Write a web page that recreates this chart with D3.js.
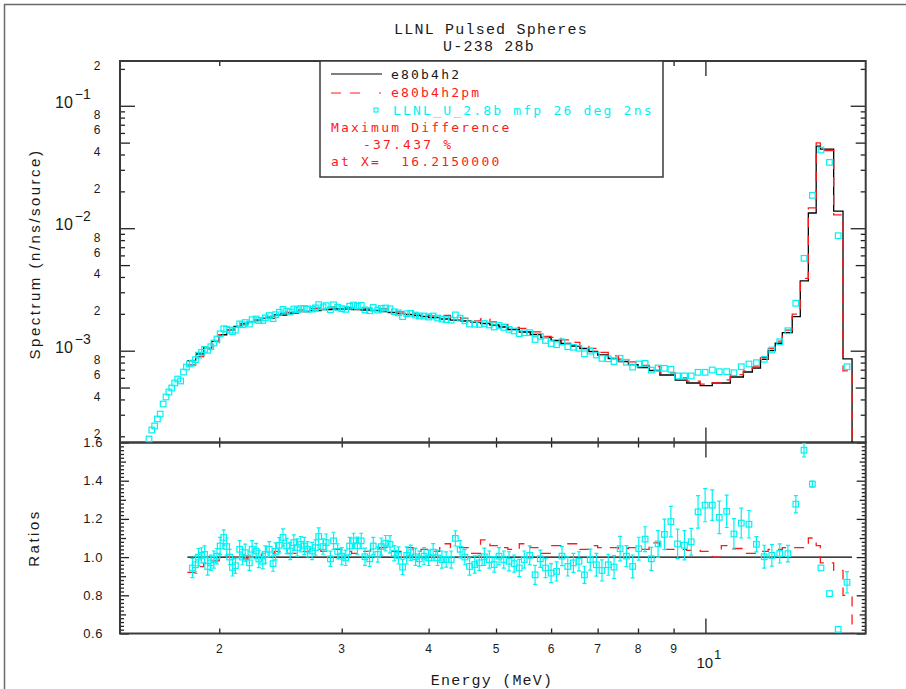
<!DOCTYPE html>
<html>
<head>
<meta charset="utf-8">
<script src="https://cdn.jsdelivr.net/npm/d3@7"></script>
<style>
  body { margin: 0; background: #fff; }
  svg { display: block; }
</style>
</head>
<body>
<div id="chart"></div>
<script>
// ---- calculations (histograms, MeV bin edges) ----
const calcEdges = [
  1.80, 1.85, 1.90, 1.95, 2.00, 2.05, 2.10, 2.15, 2.20, 2.25,
  2.30, 2.40, 2.50, 2.60, 2.70,
  2.80, 2.90, 3.00, 3.10, 3.20, 3.30, 3.40, 3.50, 3.60, 3.70,
  3.80, 3.90, 4.00, 4.15, 4.30, 4.45, 4.60, 4.75, 4.90, 5.05,
  5.20, 5.40, 5.60, 5.80, 6.00, 6.20, 6.40, 6.60, 6.80, 7.00,
  7.25, 7.50, 7.75, 8.00, 8.30, 8.60, 9.05, 9.40, 9.83, 10.23,
  10.54, 10.86, 11.34, 11.68, 12.00, 12.31, 12.60, 12.90, 13.33, 13.69,
  14.06, 14.43, 14.63, 15.29, 15.77, 16.25
];
const calcE80 = [
  8.30e-4, 9.40e-4, 1.06e-3, 1.19e-3, 1.35e-3, 1.48e-3, 1.58e-3, 1.66e-3, 1.72e-3, 1.78e-3,
  1.849e-3, 1.956e-3, 2.031e-3, 2.089e-3, 2.129e-3,
  2.169e-3, 2.190e-3, 2.190e-3, 2.169e-3, 2.149e-3, 2.129e-3, 2.089e-3, 2.050e-3, 2.012e-3, 1.975e-3,
  1.938e-3, 1.902e-3, 1.866e-3, 1.815e-3, 1.780e-3, 1.748e-3, 1.715e-3, 1.667e-3, 1.621e-3, 1.561e-3,
  1.490e-3, 1.421e-3, 1.356e-3, 1.282e-3, 1.211e-3, 1.145e-3, 1.092e-3, 1.042e-3, 9.85e-4, 9.22e-4,
  8.64e-4, 8.16e-4, 7.71e-4, 7.29e-4, 6.89e-4, 6.33e-4, 5.76e-4, 5.45e-4, 5.18e-4, 5.45e-4,
  5.45e-4, 6.10e-4, 6.70e-4, 7.22e-4, 8.50e-4, 1.00e-3, 1.15e-3, 1.403e-3, 1.895e-3, 3.71e-3,
  1.331e-2, 4.69e-2, 4.43e-2, 1.381e-2, 8.56e-4
];
const calcPm = [
  7.64e-4, 8.93e-4, 1.028e-3, 1.166e-3, 1.35e-3, 1.48e-3, 1.564e-3, 1.643e-3, 1.72e-3, 1.78e-3,
  1.886e-3, 2.015e-3, 2.072e-3, 2.152e-3, 2.214e-3,
  2.234e-3, 2.278e-3, 2.256e-3, 2.212e-3, 2.213e-3, 2.214e-3, 2.193e-3, 2.112e-3, 2.072e-3, 2.074e-3,
  1.996e-3, 1.978e-3, 1.922e-3, 1.942e-3, 1.869e-3, 1.835e-3, 1.749e-3, 1.817e-3, 1.718e-3, 1.639e-3,
  1.550e-3, 1.520e-3, 1.424e-3, 1.308e-3, 1.284e-3, 1.225e-3, 1.168e-3, 1.084e-3, 1.044e-3, 9.68e-4,
  9.07e-4, 8.53e-4, 8.10e-4, 7.58e-4, 7.41e-4, 6.58e-4, 5.99e-4, 5.64e-4, 5.34e-4, 5.45e-4,
  5.78e-4, 6.37e-4, 6.83e-4, 7.36e-4, 8.76e-4, 1.04e-3, 1.196e-3, 1.473e-3, 1.990e-3, 3.90e-3,
  1.464e-2, 4.97e-2, 4.30e-2, 1.284e-2, 6.85e-4
];
// e80b4h2pm / e80b4h2, per bin
const ratioPm = [
  0.92, 0.95, 0.97, 0.98, 1.00, 1.00, 0.99, 0.99, 1.00, 1.00,
  1.02, 1.03, 1.02, 1.03, 1.04,
  1.03, 1.04, 1.03, 1.02, 1.03, 1.04, 1.05, 1.03, 1.03, 1.05,
  1.03, 1.04, 1.03, 1.07, 1.05, 1.05, 1.02, 1.09, 1.06, 1.05,
  1.04, 1.07, 1.05, 1.02, 1.06, 1.07, 1.07, 1.04, 1.06, 1.05,
  1.05, 1.045, 1.05, 1.04, 1.075, 1.04, 1.04, 1.035, 1.03, 1.00,
  1.06, 1.045, 1.02, 1.02, 1.03, 1.04, 1.04, 1.05, 1.05, 1.05,
  1.10, 1.06, 0.97, 0.93, 0.80
];

// ---- experiment: LLNL_U_2.8b mfp 26 deg 2ns ----
const expEnergy = [
  1.585, 1.600, 1.615, 1.630, 1.645, 1.661, 1.677, 1.693, 1.709, 1.726,
  1.743, 1.760, 1.777, 1.794, 1.812, 1.830, 1.849, 1.867, 1.886, 1.905,
  1.925, 1.945, 1.965, 1.985, 2.006, 2.03, 2.05, 2.07, 2.09, 2.11,
  2.14, 2.16, 2.18, 2.21, 2.23, 2.26, 2.28, 2.31, 2.33, 2.36,
  2.39, 2.41, 2.44, 2.47, 2.50, 2.53, 2.56, 2.59, 2.62, 2.65,
  2.68, 2.72, 2.75, 2.78, 2.82, 2.85, 2.89, 2.92, 2.96, 3.00,
  3.04, 3.08, 3.12, 3.16, 3.20, 3.24, 3.29, 3.33, 3.38, 3.42,
  3.47, 3.52, 3.57, 3.62, 3.67, 3.72, 3.77, 3.83, 3.88, 3.94,
  4.00, 4.06, 4.12, 4.18, 4.24, 4.31, 4.37, 4.44, 4.51, 4.58,
  4.66, 4.73, 4.81, 4.89, 4.97, 5.05, 5.13, 5.22, 5.31, 5.40,
  5.49, 5.59, 5.69, 5.79, 5.89, 6.00, 6.11, 6.22, 6.34, 6.46,
  6.58, 6.70, 6.83, 6.97, 7.10, 7.25, 7.39, 7.54, 7.70, 7.86,
  8.02, 8.19, 8.36, 8.55, 8.73, 8.92, 9.12, 9.33, 9.54, 9.76,
  9.99, 10.23, 10.47, 10.73, 10.99, 11.26, 11.55, 11.84, 12.15, 12.46,
  12.79, 13.14, 13.49, 13.86, 14.25, 14.66, 15.08, 15.52, 15.98
];
const expSpectrum = [
  1.90e-4, 2.25e-4, 2.43e-4, 2.77e-4, 3.04e-4, 3.67e-4, 4.19e-4, 4.60e-4, 4.96e-4, 5.45e-4,
  5.87e-4, 5.66e-4, 6.70e-4, 7.36e-4, 7.79e-4, 7.92e-4, 8.45e-4, 9.20e-4, 9.69e-4, 1.024e-3,
  1.008e-3, 1.077e-3, 1.155e-3, 1.246e-3, 1.375e-3, 1.511e-3, 1.498e-3, 1.470e-3, 1.428e-3, 1.471e-3,
  1.655e-3, 1.630e-3, 1.698e-3, 1.649e-3, 1.791e-3, 1.816e-3, 1.762e-3, 1.770e-3, 1.856e-3, 1.936e-3,
  1.826e-3, 1.967e-3, 2.060e-3, 2.173e-3, 2.105e-3, 2.074e-3, 2.190e-3, 2.158e-3, 2.209e-3, 2.211e-3,
  2.186e-3, 2.188e-3, 2.237e-3, 2.377e-3, 2.279e-3, 2.335e-3, 2.160e-3, 2.371e-3, 2.256e-3, 2.201e-3,
  2.176e-3, 2.306e-3, 2.360e-3, 2.300e-3, 2.344e-3, 2.154e-3, 2.121e-3, 2.254e-3, 2.145e-3, 2.216e-3,
  2.232e-3, 2.198e-3, 2.081e-3, 2.038e-3, 1.896e-3, 2.003e-3, 2.015e-3, 1.954e-3, 1.918e-3, 1.920e-3,
  1.882e-3, 1.919e-3, 1.848e-3, 1.811e-3, 1.796e-3, 1.777e-3, 1.960e-3, 1.843e-3, 1.755e-3, 1.650e-3,
  1.648e-3, 1.639e-3, 1.668e-3, 1.624e-3, 1.562e-3, 1.608e-3, 1.550e-3, 1.496e-3, 1.449e-3, 1.377e-3,
  1.402e-3, 1.403e-3, 1.234e-3, 1.308e-3, 1.212e-3, 1.145e-3, 1.119e-3, 1.181e-3, 1.079e-3, 1.067e-3,
  1.046e-3, 9.43e-4, 9.92e-4, 9.22e-4, 8.65e-4, 8.59e-4, 8.15e-4, 8.67e-4, 8.04e-4, 7.35e-4,
  7.80e-4, 7.88e-4, 6.94e-4, 7.22e-4, 7.18e-4, 7.05e-4, 6.22e-4, 6.22e-4, 6.22e-4, 6.66e-4,
  6.66e-4, 6.96e-4, 6.74e-4, 6.74e-4, 6.61e-4, 7.40e-4, 7.79e-4, 7.98e-4, 8.51e-4, 1.013e-3,
  1.184e-3, 1.456e-3, 2.44e-3, 5.68e-3, 1.856e-2, 4.35e-2, 3.45e-2, 8.69e-3, 7.40e-4
];
// experiment / e80b4h2 (null where there is no calculation)
const expRatio = [
  null, null, null, null, null, null, null, null, null, null,
  null, null, null, null, null, 0.943, 0.96, 1.0, 1.009, 1.014,
  0.951, 0.97, 0.987, 1.005, 1.058, 1.103, 1.055, 1.0, 0.946, 0.955,
  1.041, 1.0, 1.023, 0.970, 1.041, 1.032, 0.99, 0.978, 1.014, 1.041,
  0.966, 1.03, 1.062, 1.103, 1.058, 1.032, 1.076, 1.05, 1.067, 1.058,
  1.041, 1.032, 1.05, 1.108, 1.055, 1.076, 0.991, 1.085, 1.03, 1.005,
  0.996, 1.058, 1.085, 1.06, 1.085, 1.002, 0.991, 1.058, 1.014, 1.055,
  1.073, 1.067, 1.02, 1.009, 0.948, 1.009, 1.023, 1.002, 0.991, 1.005,
  0.996, 1.026, 0.996, 0.987, 0.987, 0.987, 1.098, 1.041, 1.0, 0.951,
  0.961, 0.970, 1.002, 0.987, 0.961, 1.005, 0.987, 0.978, 0.966, 0.943,
  0.987, 1.009, 0.907, 0.991, 0.943, 0.916, 0.925, 1.005, 0.951, 0.970,
  0.978, 0.907, 0.987, 0.96, 0.93, 0.96, 0.948, 1.044, 1.005, 0.951,
  1.044, 1.094, 0.991, 1.069, 1.119, 1.186, 1.069, 1.062, 1.080, 1.237,
  1.272, 1.272, 1.208, 1.240, 1.121, 1.178, 1.172, 1.067, 1.002, 1.009,
  1.019, 1.018, 1.277, 1.560, 1.382, 0.943, 0.809, 0.622, 0.868
];
const expRatioErr = [
  null, null, null, null, null, null, null, null, null, null,
  null, null, null, null, null, 0.05, 0.045, 0.045, 0.04, 0.045,
  0.045, 0.04, 0.045, 0.04, 0.045, 0.04, 0.045, 0.04, 0.045, 0.04,
  0.045, 0.04, 0.045, 0.04, 0.045, 0.04, 0.045, 0.04, 0.045, 0.04,
  0.04, 0.045, 0.04, 0.045, 0.04, 0.045, 0.04, 0.045, 0.04, 0.045,
  0.04, 0.045, 0.04, 0.045, 0.04, 0.045, 0.04, 0.045, 0.04, 0.045,
  0.04, 0.045, 0.04, 0.045, 0.04, 0.045, 0.04, 0.045, 0.04, 0.045,
  0.04, 0.045, 0.04, 0.045, 0.04, 0.045, 0.04, 0.045, 0.04, 0.045,
  0.04, 0.045, 0.04, 0.045, 0.04, 0.045, 0.04, 0.045, 0.04, 0.045,
  0.045, 0.04, 0.045, 0.045, 0.04, 0.045, 0.045, 0.05, 0.045, 0.045,
  0.045, 0.05, 0.05, 0.045, 0.05, 0.05, 0.05, 0.05, 0.05, 0.05,
  0.05, 0.045, 0.055, 0.06, 0.055, 0.055, 0.06, 0.064, 0.055, 0.06,
  0.06, 0.065, 0.06, 0.07, 0.08, 0.08, 0.077, 0.077, 0.07, 0.085,
  0.087, 0.08, 0.085, 0.085, 0.08, 0.078, 0.072, 0.04, 0.06, 0.056,
  0.05, 0.043, 0.045, 0.036, 0.016, 0, 0, 0, 0.056
];

// ---- axis ticks / labels ----
const xTicks = [2, 3, 4, 5, 6, 7, 8, 9, 10];
const xTickLabels = ["2", "3", "4", "5", "6", "7", "8", "9", "10"];
const specLabelMantissas = [2, 4, 6, 8];
const specDecades = [1e-3, 1e-2, 1e-1];
const specDecadeExps = ["\u22123", "\u22122", "\u22121"];
const ratioTicks = [0.6, 0.8, 1.0, 1.2, 1.4, 1.6];
const ratioTickLabels = ["0.6", "0.8", "1.0", "1.2", "1.4", "1.6"];

const legendRows = ["e80b4h2", "e80b4h2pm", "LLNL_U_2.8b mfp 26 deg 2ns"];
const noteRows = ["Maximum Difference", "-37.437 %", "at X=  16.2150000"];

const width = 906, height = 689;
const margin = {left: 120, right: 865.7, top: 61, mid: 442.5, bottom: 633.5};
const RED = "#ff1a1a", CYAN = "#00f2f2", FRAME = "#3a3a3a";
const sansFont = "'Liberation Sans', Arial, sans-serif";
const monoFont = "'DejaVu Sans Mono', monospace";
const titleFont = "'Liberation Mono', monospace";

const x = d3.scaleLog().domain([1.44, 17.0]).range([margin.left, margin.right]);
const y = d3.scaleLog().domain([1.78e-4, 0.232]).range([margin.mid, margin.top]);
const yr = d3.scaleLinear().domain([0.6, 1.6]).range([margin.bottom, margin.mid]);

const svg = d3.select("#chart").append("svg")
    .attr("width", width)
    .attr("height", height)
    .attr("viewBox", [0, 0, width, height]);

// outer page frame
svg.append("rect")
    .attr("x", 4.5).attr("y", 4.5)
    .attr("width", 1000).attr("height", 1000)
    .attr("fill", "none").attr("stroke", "#6a6a6a").attr("stroke-width", 1.5);

const defs = svg.append("defs");
defs.append("clipPath").attr("id", "clipTop").append("rect")
    .attr("x", margin.left).attr("y", margin.top)
    .attr("width", margin.right - margin.left).attr("height", margin.mid - margin.top);
defs.append("clipPath").attr("id", "clipRatio").append("rect")
    .attr("x", margin.left).attr("y", margin.mid)
    .attr("width", margin.right - margin.left).attr("height", margin.bottom - margin.mid);

// ---- ticks ----
function tickGroup(axis, tx, ty) {
  svg.append("g")
      .attr("transform", `translate(${tx},${ty})`)
      .call(axis)
      .call(g => g.select(".domain").remove())
      .call(g => g.selectAll("line").attr("stroke", "#222").attr("stroke-width", 1.3));
}
const isDecade = v => Math.abs(Math.log10(v) - Math.round(Math.log10(v))) < 1e-6;
const isFive = v => Math.abs(v / Math.pow(10, Math.floor(Math.log10(v) + 1e-9)) - 5) < 1e-6;

const specTicks = y.ticks();
const specMajor = specTicks.filter(isDecade);
const specMid = specTicks.filter(v => !isDecade(v) && isFive(v));
const specMinor = specTicks.filter(v => !isDecade(v) && !isFive(v));
[[specMajor, 15], [specMid, 10], [specMinor, 5]].forEach(([vals, len]) => {
  tickGroup(d3.axisLeft(y).tickValues(vals).tickSize(-len).tickFormat(""), margin.left, 0);
  tickGroup(d3.axisRight(y).tickValues(vals).tickSize(-len).tickFormat(""), margin.right, 0);
});

const xMinor = xTicks.filter(v => v !== 10);
[[xMinor, 5], [[10], 15]].forEach(([vals, len]) => {
  tickGroup(d3.axisTop(x).tickValues(vals).tickSize(-len).tickFormat(""), 0, margin.top);
  tickGroup(d3.axisBottom(x).tickValues(vals).tickSize(-len).tickFormat(""), 0, margin.mid);
  tickGroup(d3.axisTop(x).tickValues(vals).tickSize(-len).tickFormat(""), 0, margin.mid);
  tickGroup(d3.axisBottom(x).tickValues(vals).tickSize(-len).tickFormat(""), 0, margin.bottom);
});

const rAll = d3.range(0.6, 1.6001, 0.02).map(v => +v.toFixed(2));
const rMajor = rAll.filter(v => Math.abs(v * 5 - Math.round(v * 5)) < 1e-6);
const rMid = rAll.filter(v => !rMajor.includes(v) && Math.abs(v * 10 - Math.round(v * 10)) < 1e-6);
const rMinor = rAll.filter(v => !rMajor.includes(v) && !rMid.includes(v));
[[rMajor, 9], [rMid, 6], [rMinor, 4]].forEach(([vals, len]) => {
  tickGroup(d3.axisLeft(yr).tickValues(vals).tickSize(-len).tickFormat(""), margin.left, 0);
  tickGroup(d3.axisRight(yr).tickValues(vals).tickSize(-len).tickFormat(""), margin.right, 0);
});

// ---- panel frames ----
[[margin.top, margin.mid], [margin.mid, margin.bottom]].forEach(([t, b]) => {
  svg.append("rect")
      .attr("x", margin.left).attr("y", t)
      .attr("width", margin.right - margin.left).attr("height", b - t)
      .attr("fill", "none").attr("stroke", FRAME).attr("stroke-width", 2);
});

// ---- tick labels ----
const labels = svg.append("g").attr("fill", "#1a1a1a").attr("font-family", sansFont);

specDecades.forEach((d, i) => {
  specLabelMantissas.forEach(m => {
    const v = m * d / 10;
    if (v < y.domain()[0]) return;
    labels.append("text")
        .attr("x", 97).attr("y", y(v) + 1.5)
        .attr("text-anchor", "middle").attr("font-size", 12)
        .text(m);
  });
  const t = labels.append("text")
      .attr("x", 55).attr("y", y(d) + 2)
      .attr("font-size", 16)
      .text("10");
  t.append("tspan").attr("dx", 2).attr("dy", -9).attr("font-size", 14).text(specDecadeExps[i]);
});
labels.append("text")
    .attr("x", 97).attr("y", y(0.2) + 1.5)
    .attr("text-anchor", "middle").attr("font-size", 12)
    .text("2");

ratioTicks.forEach((v, i) => {
  labels.append("text")
      .attr("x", 103).attr("y", yr(v) + 4.5)
      .attr("text-anchor", "end").attr("font-size", 13)
      .attr("letter-spacing", 0.6)
      .text(ratioTickLabels[i]);
});

xTicks.forEach((v, i) => {
  if (v === 10) {
    const t = labels.append("text")
        .attr("x", x(v) - 9).attr("y", 668)
        .attr("font-size", 15)
        .text(xTickLabels[i]);
    t.append("tspan").attr("dx", 1).attr("dy", -9).attr("font-size", 13).text("1");
  } else {
    labels.append("text")
        .attr("x", x(v)).attr("y", 653)
        .attr("text-anchor", "middle").attr("font-size", 12)
        .text(xTickLabels[i]);
  }
});

// ---- axis titles ----
svg.append("text")
    .attr("transform", "translate(34,254) rotate(-90)")
    .attr("text-anchor", "middle").attr("dominant-baseline", "central")
    .attr("font-family", sansFont).attr("font-size", 15).attr("letter-spacing", 2.5)
    .attr("fill", "#1a1a1a")
    .text("Spectrum (n/ns/source)");
svg.append("text")
    .attr("transform", "translate(33,538) rotate(-90)")
    .attr("text-anchor", "middle").attr("dominant-baseline", "central")
    .attr("font-family", sansFont).attr("font-size", 15).attr("letter-spacing", 2.5)
    .attr("fill", "#1a1a1a")
    .text("Ratios");
svg.append("text")
    .attr("x", 492).attr("y", 684.5)
    .attr("text-anchor", "middle")
    .attr("font-family", titleFont).attr("font-size", 15).attr("letter-spacing", 1.2)
    .attr("fill", "#1a1a1a")
    .text("Energy (MeV)");
svg.append("text")
    .attr("x", 491).attr("y", 33.5)
    .attr("text-anchor", "middle")
    .attr("font-family", titleFont).attr("font-size", 15).attr("letter-spacing", 1.2)
    .attr("fill", "#1a1a1a")
    .text("LLNL Pulsed Spheres");
svg.append("text")
    .attr("x", 489).attr("y", 50.5)
    .attr("text-anchor", "middle")
    .attr("font-family", titleFont).attr("font-size", 15).attr("letter-spacing", 1.2)
    .attr("fill", "#1a1a1a")
    .text("U-238 28b");

// ---- spectrum panel ----
const step = (sx, sy) => d3.line().curve(d3.curveStepAfter).x(d => sx(d[0])).y(d => sy(d[1]));
const binPoints = (vals, floor) => {
  const pts = calcEdges.map((e, i) => [e, vals[Math.min(i, vals.length - 1)]]);
  pts.push([calcEdges[calcEdges.length - 1], floor]);
  return pts;
};

const specPanel = svg.append("g").attr("clip-path", "url(#clipTop)");
specPanel.append("path")
    .attr("fill", "none").attr("stroke", "#000").attr("stroke-width", 1.3)
    .attr("d", step(x, y)(binPoints(calcE80, y.domain()[0])));
specPanel.append("path")
    .attr("fill", "none").attr("stroke", RED).attr("stroke-width", 1.3)
    .attr("stroke-dasharray", "10,8")
    .attr("d", step(x, y)(binPoints(calcPm, y.domain()[0])));
specPanel.append("g")
    .attr("fill", "none").attr("stroke", CYAN).attr("stroke-width", 1.2)
  .selectAll("rect")
  .data(expEnergy.map((e, i) => [e, expSpectrum[i]]))
  .join("rect")
    .attr("x", d => x(d[0]) - 2.8).attr("y", d => y(d[1]) - 2.8)
    .attr("width", 5.6).attr("height", 5.6);

// ---- ratio panel ----
const ratioPanel = svg.append("g").attr("clip-path", "url(#clipRatio)");
ratioPanel.append("line")
    .attr("x1", x(calcEdges[0])).attr("x2", x(calcEdges[calcEdges.length - 1]))
    .attr("y1", yr(1)).attr("y2", yr(1))
    .attr("stroke", "#000").attr("stroke-width", 1.3);
ratioPanel.append("path")
    .attr("fill", "none").attr("stroke", RED).attr("stroke-width", 1.3)
    .attr("stroke-dasharray", "10,8")
    .attr("d", step(x, yr)(binPoints(ratioPm, yr.domain()[0])));

const pts = expEnergy.map((e, i) => ({e, r: expRatio[i], err: expRatioErr[i]}))
    .filter(d => d.r !== null);
const eb = ratioPanel.append("g").attr("stroke", CYAN).attr("stroke-width", 1.2).attr("fill", "none");
eb.selectAll("path.err")
  .data(pts.filter(d => d.err > 0))
  .join("path")
    .attr("class", "err")
    .attr("d", d => {
      const cx = x(d.e), y0 = yr(d.r - d.err), y1 = yr(d.r + d.err);
      return `M${cx},${y0}V${y1}M${cx - 2},${y0}H${cx + 2}M${cx - 2},${y1}H${cx + 2}`;
    });
eb.selectAll("rect")
  .data(pts)
  .join("rect")
    .attr("x", d => x(d.e) - 2.8).attr("y", d => yr(d.r) - 2.8)
    .attr("width", 5.6).attr("height", 5.6);

// ---- legend ----
const lg = svg.append("g");
lg.append("rect")
    .attr("x", 320).attr("y", margin.top)
    .attr("width", 343).attr("height", 116)
    .attr("fill", "#fff").attr("stroke", FRAME).attr("stroke-width", 1.5);
lg.append("line").attr("x1", 331).attr("x2", 382).attr("y1", 74).attr("y2", 74)
    .attr("stroke", "#000").attr("stroke-width", 1.2);
lg.append("line").attr("x1", 331).attr("x2", 382).attr("y1", 93).attr("y2", 93)
    .attr("stroke", RED).attr("stroke-width", 1.2).attr("stroke-dasharray", "10,9,10,19,2,30");
lg.append("rect").attr("x", 374).attr("y", 108).attr("width", 4).attr("height", 4)
    .attr("fill", "none").attr("stroke", CYAN).attr("stroke-width", 1.1);

const legendColors = ["#1a1a1a", RED, CYAN];
const legendX = [391, 391, 393];
const legendY = [78.5, 97, 114.5];
legendRows.forEach((t, i) => {
  lg.append("text")
      .attr("x", legendX[i]).attr("y", legendY[i])
      .attr("font-family", monoFont).attr("font-size", 13).attr("letter-spacing", 2.2)
      .attr("fill", legendColors[i])
      .style("white-space", "pre")
      .text(t);
});
const noteX = [331, 363, 331];
const noteY = [132, 148.5, 166];
noteRows.forEach((t, i) => {
  lg.append("text")
      .attr("x", noteX[i]).attr("y", noteY[i])
      .attr("font-family", monoFont).attr("font-size", 13).attr("letter-spacing", 2.2)
      .attr("fill", RED)
      .style("white-space", "pre")
      .text(t);
});
</script>
</body>
</html>
